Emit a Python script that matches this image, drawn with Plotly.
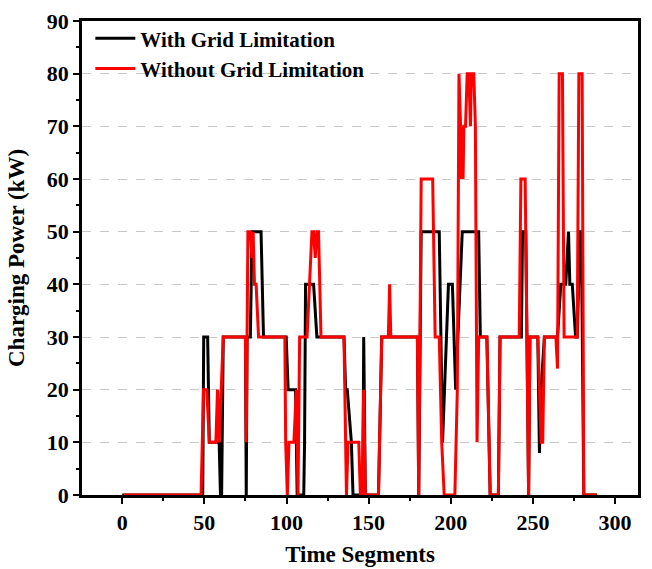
import plotly.graph_objects as go

# Breakpoints (time segment, charging power kW)
with_t = [0, 49, 49.6, 52, 53, 59, 59.8, 60.5, 61.5, 75, 75.5, 76, 78, 79, 84.5, 86,
          99.8, 101, 105.5, 106.5, 110.5, 111, 111.6, 116.5, 118.5, 135, 136, 137, 139.5, 140.5,
          146.5, 147, 148, 156, 158, 179.7, 180.5, 182, 193, 195, 198.6, 201, 203, 207,
          217, 218, 222, 224, 229, 230, 243, 243.7, 245.7, 247.4, 248.2, 253, 254, 255,
          257, 264, 265, 267, 270, 271.7, 272.5, 274, 276, 277, 278.7, 279.5, 281, 289]
with_p = [0, 0, 30, 30, 10, 10, 0, 0, 30, 30, 0, 30, 30, 50, 50, 30,
          30, 20, 20, 0, 0, 10, 40, 40, 30, 30, 20, 20, 10, 0,
          0, 30, 0, 0, 30, 30, 0, 50, 50, 10, 40, 40, 20, 50,
          50, 30, 30, 0, 0, 30, 30, 50, 50, 0, 30, 30, 8, 20,
          30, 30, 30, 40, 40, 50, 40, 40, 30, 30, 50, 50, 0, 0]

without_t = [1, 48, 49.5, 51.5, 53, 57, 58, 59, 61.5, 75, 75.5, 76.5, 78, 79, 79.7, 80.5, 81.5, 83,
             99, 99.5, 100.5, 101.5, 104.5, 106, 107, 108, 112.5, 115.5, 116.5, 117.5, 118.5, 119.5, 121,
             135, 136.5, 137.5, 144, 145, 146, 147, 148, 156, 158, 162, 162.8, 163.5, 179.7, 180.5, 182,
             189, 190.5, 193, 194.5, 196, 202.5, 204, 205, 206, 206.5, 207, 207.5, 208, 209, 210, 211,
             212, 212.5, 214, 215, 216, 217, 222, 224, 229, 230, 241.7, 242.7, 245.3, 247.4, 248.2,
             253, 255, 256, 257, 264, 265, 266, 268, 269, 277, 278, 280, 281, 289]
without_p = [0, 0, 20, 20, 10, 10, 20, 10, 30, 30, 10, 50, 50, 45, 50, 40, 40, 30,
             30, 10, 0, 10, 10, 20, 0, 30, 30, 50, 50, 45, 50, 50, 30,
             30, 0, 10, 10, 0, 0, 20, 0, 0, 30, 30, 40, 30, 30, 0, 60,
             60, 30, 30, 10, 0, 0, 20, 80, 70, 60, 70, 60, 70, 70, 80, 80,
             70, 80, 80, 70, 10, 30, 30, 0, 0, 30, 30, 60, 60, 0, 30,
             30, 10, 10, 30, 30, 24, 80, 80, 30, 30, 80, 80, 0, 0]

x_ticks = [0, 50, 100, 150, 200, 250, 300]
y_ticks = [0, 10, 20, 30, 40, 50, 60, 70, 80, 90]

FONT = "Liberation Serif"

fig = go.Figure()
fig.add_trace(go.Scatter(x=with_t, y=with_p, mode="lines", name="<b>With Grid Limitation</b>",
                         line=dict(color="black", width=3)))
fig.add_trace(go.Scatter(x=without_t, y=without_p, mode="lines", name="<b>Without Grid Limitation</b>",
                         line=dict(color="red", width=3)))

fig.update_layout(
    width=652, height=569,
    margin=dict(l=82, r=14, t=21, b=74),
    paper_bgcolor="white", plot_bgcolor="white",
    font=dict(family=FONT, color="black", size=22),
    legend=dict(x=0.015, y=1.006, xanchor="left", yanchor="top", bgcolor="rgba(0,0,0,0)",
                font=dict(family=FONT, size=21), tracegroupgap=0, itemwidth=40),
    showlegend=True,
)
fig.update_xaxes(
    range=[-24.5, 314], tickvals=x_ticks, ticktext=[f"<b>{v}</b>" for v in x_ticks],
    showline=True, linecolor="black", linewidth=2.5, mirror=True,
    ticks="outside", ticklen=6, tickwidth=2, tickcolor="black",
    minor=dict(tickvals=[-25, 25, 75, 125, 175, 225, 275], ticks="outside", ticklen=3, tickwidth=2, tickcolor="black"),
    showgrid=False, zeroline=False, automargin=False,
    title=dict(text="<b>Time Segments</b>", font=dict(family=FONT, size=23), standoff=12),
)
fig.update_yaxes(
    range=[0, 90], tickvals=y_ticks, ticktext=[f"<b>{v}</b>" for v in y_ticks],
    showline=True, linecolor="black", linewidth=2.5, mirror=True,
    ticks="outside", ticklen=6, tickwidth=2, tickcolor="black",
    minor=dict(tickvals=[5, 15, 25, 35, 45, 55, 65, 75, 85], ticks="outside", ticklen=3, tickwidth=2, tickcolor="black"),
    showgrid=True, gridcolor="#c8c8c8", griddash="dash", gridwidth=1, zeroline=False, automargin=False,
    title=dict(text="<b>Charging Power (kW)</b>", font=dict(family=FONT, size=23), standoff=16),
)

fig.write_html("out.html")
